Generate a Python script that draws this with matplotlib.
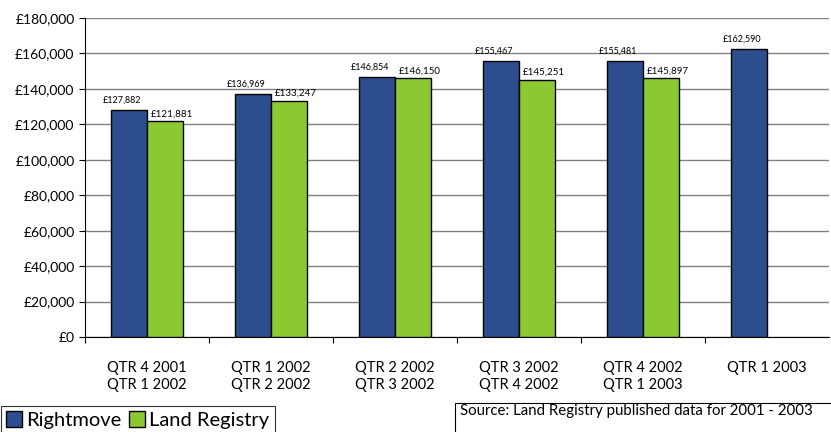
import numpy as np
import matplotlib
matplotlib.use("Agg")
from matplotlib import pyplot as plt
from matplotlib.ticker import FuncFormatter, FixedLocator
from matplotlib.patches import Patch, Rectangle

plt.rcParams['font.family'] = ['Lato', 'DejaVu Sans']

categories = ["QTR 4 2001\nQTR 1 2002", "QTR 1 2002\nQTR 2 2002", "QTR 2 2002\nQTR 3 2002",
              "QTR 3 2002\nQTR 4 2002", "QTR 4 2002\nQTR 1 2003", "QTR 1 2003"]
rightmove = [127882, 136969, 146854, 155467, 155481, 162590]
land_registry = [121881, 133247, 146150, 145251, 145897, None]

blue = "#2C4D8E"
green = "#8BC832"

fig = plt.figure(figsize=(8.31, 4.32), dpi=100)
ax = fig.add_axes([0.1023, 0.2199, 0.8953, 0.7384])

x = np.arange(len(categories))
w = 0.29
for i in range(len(categories)):
    ax.bar(x[i] - w / 2, rightmove[i], w, color=blue, edgecolor="black", linewidth=1, zorder=3)
    ax.annotate("£{:,}".format(rightmove[i]), (x[i] - w / 2, rightmove[i]), xytext=(-5, 4),
                textcoords="offset points", ha="center", va="bottom", fontsize=6.5)
    if land_registry[i] is not None:
        ax.bar(x[i] + w / 2, land_registry[i], w, color=green, edgecolor="black", linewidth=1, zorder=3)
        ax.annotate("£{:,}".format(land_registry[i]), (x[i] + w / 2, land_registry[i]), xytext=(5, 2),
                    textcoords="offset points", ha="center", va="bottom", fontsize=7)

ax.set_xlim(-0.5, len(categories) - 0.5)
ax.set_ylim(0, 180000)
ax.set_yticks(np.arange(0, 180001, 20000))
ax.yaxis.set_major_formatter(FuncFormatter(lambda v, p: "£{:,.0f}".format(v)))
ax.grid(axis="y", color="#808080", linewidth=1, zorder=0)

ax.xaxis.set_major_locator(FixedLocator(x - 0.5))
ax.set_xticklabels([])
ax.set_xticks(x, minor=True)
ax.set_xticklabels(categories, minor=True, fontsize=10.5, linespacing=1.3)
ax.tick_params(axis="x", which="minor", length=0, pad=17)
ax.tick_params(axis="x", which="major", length=4, direction="out")
ax.tick_params(axis="y", labelsize=10, length=4)

for s in ["top", "right"]:
    ax.spines[s].set_visible(False)

handles = [Patch(facecolor=blue, edgecolor="black"), Patch(facecolor=green, edgecolor="black")]
leg = fig.legend(handles, ["Rightmove", "Land Registry"], loc="lower left", bbox_to_anchor=(0.001, -0.005),
                 ncol=2, fontsize=14.5, frameon=True, fancybox=False, edgecolor="black",
                 handlelength=0.8, handleheight=0.8, handletextpad=0.2, columnspacing=0.4,
                 borderpad=0.25, borderaxespad=0)
leg.get_frame().set_linewidth(0.8)

fig.patches.append(Rectangle((0.5475, -0.01), 0.46, 0.078, transform=fig.transFigure,
                             facecolor="white", edgecolor="black", linewidth=0.8))
fig.text(0.553, 0.049, "Source: Land Registry published data for 2001 - 2003", fontsize=10.8,
         va="center", ha="left")

fig.savefig("out.png", dpi=100)
